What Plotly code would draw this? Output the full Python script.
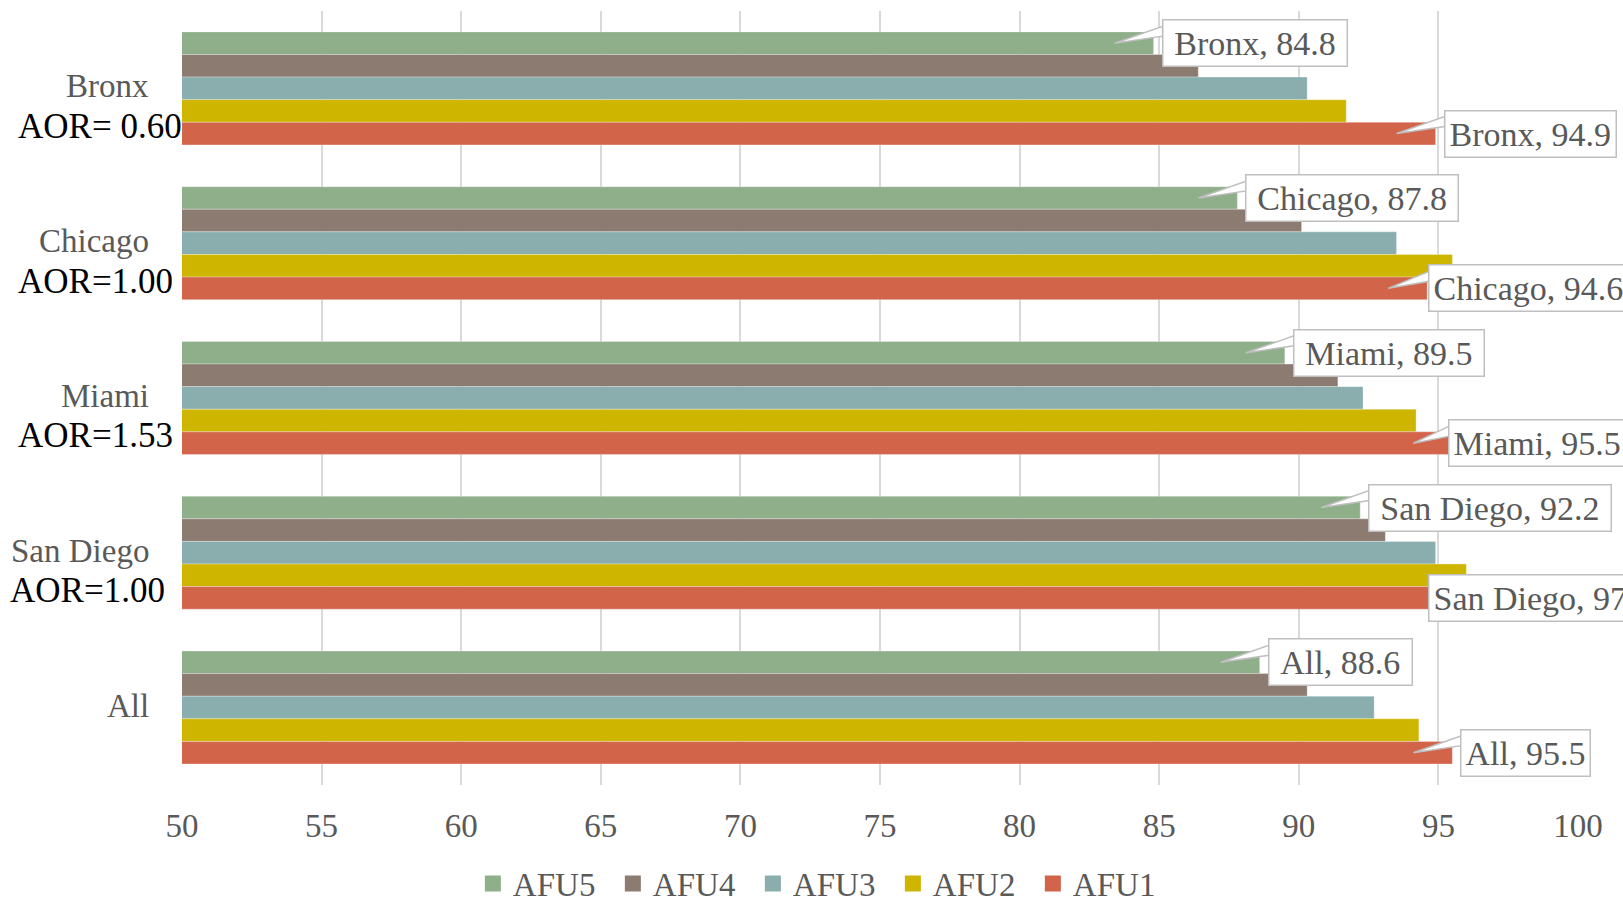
import plotly.graph_objects as go

# ---- data ----
categories = ["Bronx", "Chicago", "Miami", "San Diego", "All"]
aor_labels = ["AOR= 0.60", "AOR=1.00", "AOR=1.53", "AOR=1.00", ""]
series_names = ["AFU5", "AFU4", "AFU3", "AFU2", "AFU1"]
afu5 = [84.8, 87.8, 89.5, 92.2, 88.6]
afu4 = [86.4, 90.1, 91.4, 93.1, 90.3]
afu3 = [90.3, 93.5, 92.3, 94.9, 92.7]
afu2 = [91.7, 95.5, 94.2, 96.0, 94.3]
afu1 = [94.9, 94.6, 95.5, 97.0, 95.5]
x_ticks = [50, 55, 60, 65, 70, 75, 80, 85, 90, 95, 100]

# ---- styles ----
colors = ["#8FAF8B", "#8B7B70", "#8AADAD", "#CEB500", "#D2644A"]
FONT = "Liberation Serif"
FS = 33
GRAY = "#595959"
BARGAP = 0.27
aor_left_shift = [-166, -166, -166, -174, 0]      # pixel offset of AOR text from axis
callout_shift_first = [8, 8, 8, 8, 8]             # AFU5 callout box offset (px)
callout_shift_last = [8, 1, -4, -66, 8]           # AFU1 callout box offset (px)

series = [afu5, afu4, afu3, afu2, afu1]
ypos = list(range(len(categories)))

fig = go.Figure()
for name, vals, col in zip(series_names, series, colors):
    fig.add_trace(go.Bar(
        name=name, x=vals, y=ypos, orientation="h", showlegend=False,
        marker=dict(color=col, line=dict(color="rgba(255,255,255,0.5)", width=0.6)),
    ))
# legend entries with larger square swatches
for name, col in zip(series_names, colors):
    fig.add_trace(go.Scatter(
        name=name, x=[None], y=[None], mode="markers",
        marker=dict(symbol="square", size=19, color=col), showlegend=True,
    ))

n = len(series)
bw = (1 - BARGAP) / n

def fmt(v):
    return f"{v:g}"

annotations = []
shapes = []
for si, shifts, pad in ((0, callout_shift_first, "\u2009"), (n - 1, callout_shift_last, "")):
    off = -(1 - BARGAP) / 2 + bw * (si + 0.5)
    for ci, cat in enumerate(categories):
        v = series[si][ci]
        yc = ci + off
        sh = shifts[ci]
        if sh > -30:
            shapes.append(dict(
                type="path", xref="x", yref="y", xsizemode="pixel", ysizemode="pixel",
                xanchor=v, yanchor=yc,
                path=f"M -39,0 L {sh + 1},17 L {sh + 1},7 Z",
                fillcolor="white", line=dict(color="#BFBFBF", width=1.5), layer="above",
            ))
        annotations.append(dict(
            x=v, y=yc, xref="x", yref="y", text=f"{pad}{cat}, {fmt(v)}{pad}",
            showarrow=False, xanchor="left", yanchor="middle", xshift=sh,
            bgcolor="white", bordercolor="#BFBFBF", borderwidth=1.5, borderpad=4,
            font=dict(family=FONT, size=34, color=GRAY),
        ))

# category labels
for ci, cat in enumerate(categories):
    annotations.append(dict(
        x=x_ticks[0], y=ci, xref="x", yref="y", text=cat, showarrow=False,
        xanchor="right", yanchor="middle", xshift=-31, yshift=2,
        font=dict(family=FONT, size=FS, color=GRAY),
    ))
    if aor_labels[ci]:
        annotations.append(dict(
            x=x_ticks[0], y=ci, xref="x", yref="y", text=aor_labels[ci], showarrow=False,
            xanchor="left", yanchor="middle", xshift=aor_left_shift[ci], yshift=-38,
            font=dict(family=FONT, size=35, color="#000000"),
        ))

fig.update_layout(
    width=1623, height=908,
    margin=dict(l=182, r=45, t=11, b=122),
    paper_bgcolor="white", plot_bgcolor="white",
    barmode="group", bargap=BARGAP, bargroupgap=0,
    font=dict(family=FONT, size=FS, color=GRAY),
    xaxis=dict(range=[x_ticks[0], x_ticks[-1]], tickvals=x_ticks, showgrid=True,
               gridcolor="#D9D9D9", gridwidth=1.5, zeroline=False, showline=False,
               ticks="outside", ticklen=12, tickcolor="rgba(0,0,0,0)",
               tickfont=dict(family=FONT, size=FS, color=GRAY)),
    yaxis=dict(range=[len(categories) - 0.5, -0.5], showticklabels=False,
               showgrid=False, zeroline=False, showline=False),
    legend=dict(orientation="h", xref="container", yref="container",
                x=0.507, xanchor="center", y=0.027, yanchor="middle",
                entrywidth=95, entrywidthmode="pixels",
                font=dict(family=FONT, size=FS, color=GRAY), traceorder="normal",
                itemclick=False),
    annotations=annotations, shapes=shapes, showlegend=True,
)

fig.write_html("out.html")
